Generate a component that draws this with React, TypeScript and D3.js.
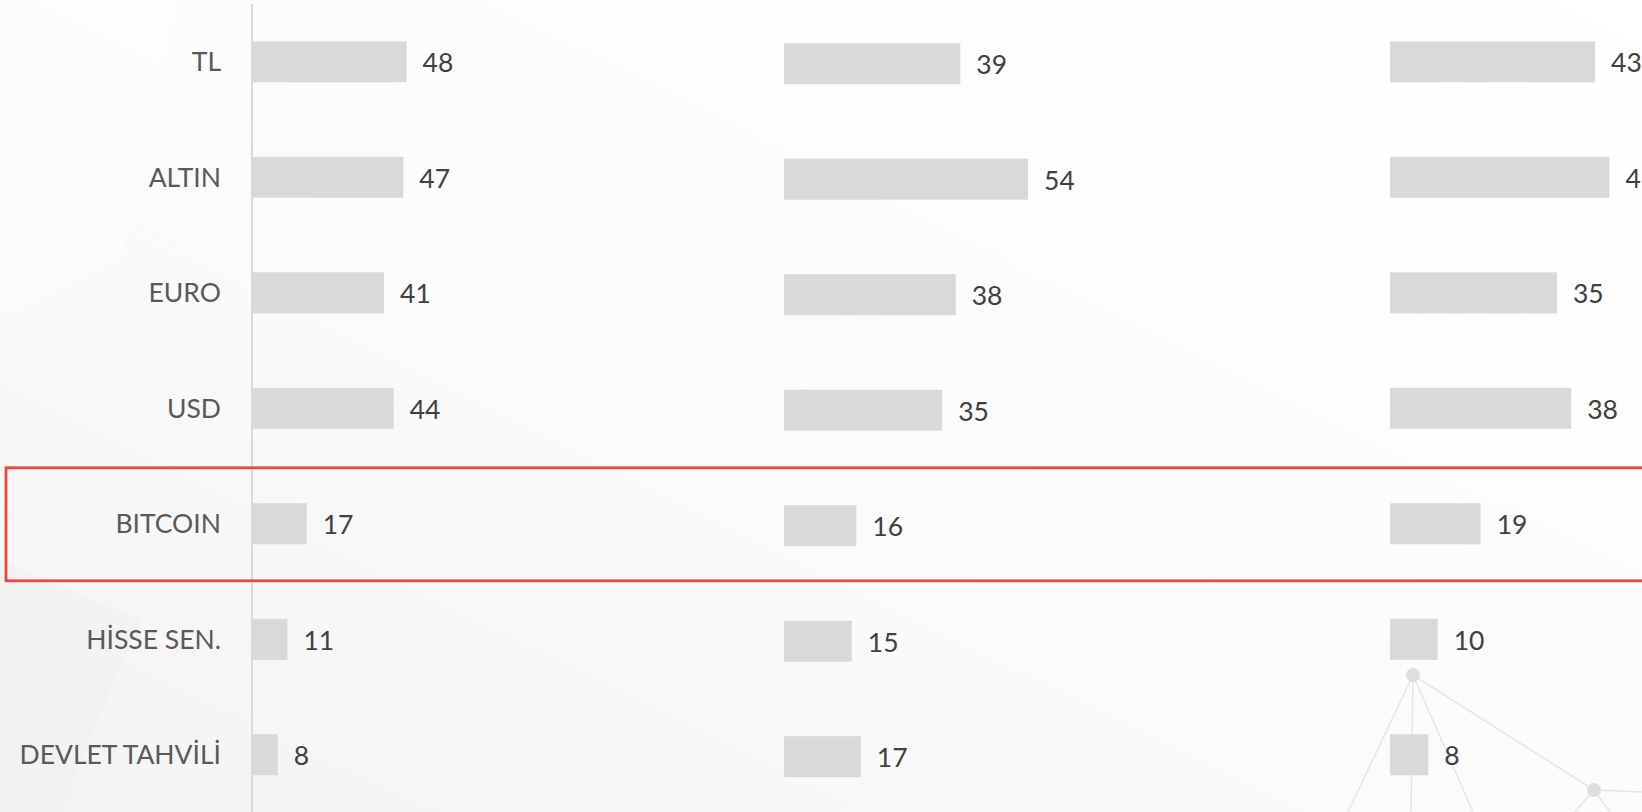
import React from "react";
import * as d3 from "d3";

const categories = ["TL", "ALTIN", "EURO", "USD", "BITCOIN", "HİSSE SEN.", "DEVLET TAHVİLİ"];
const series1 = [48, 47, 41, 44, 17, 11, 8];
const series2 = [39, 54, 38, 35, 16, 15, 17];
const series3 = [43, 46, 35, 38, 19, 10, 8];
const highlighted = "BITCOIN";

// network decoration nodes (background art)
const netNodes: [number, number][] = [
  [1413, 675],
  [1594, 790],
];
const netEdges: [number, number, number, number][] = [
  [1413, 675, 1348, 812],
  [1413, 675, 1411, 812],
  [1413, 675, 1473, 812],
  [1413, 675, 1594, 790],
  [1594, 790, 1642, 792],
  [1594, 790, 1575, 812],
  [1594, 790, 1610, 812],
];

const W = 1642;
const H = 812;

export default function App() {
  const y = d3.scalePoint<string>().domain(categories).range([61.8, 754.8]);
  const barH = 41;

  const panels = [
    { data: series1, x0: 252, scale: d3.scaleLinear().domain([0, 100]).range([0, 322]), dy: 0 },
    { data: series2, x0: 784, scale: d3.scaleLinear().domain([0, 100]).range([0, 452]), dy: 1.9 },
    { data: series3, x0: 1390, scale: d3.scaleLinear().domain([0, 100]).range([0, 477]), dy: 0 },
  ];

  const font = "Lato, 'Open Sans', sans-serif";
  const hy = y(highlighted)!;

  return (
    <svg
      width={W}
      height={H}
      style={{ position: "fixed", left: 0, top: 0, display: "block" }}
    >
      <defs>
        <linearGradient id="bg" x1="0" y1="1" x2="1" y2="0">
          <stop offset="0%" stopColor="#f3f3f3" />
          <stop offset="45%" stopColor="#fbfbfb" />
          <stop offset="100%" stopColor="#ffffff" />
        </linearGradient>
      </defs>
      <rect x={0} y={0} width={W} height={H} fill="url(#bg)" />
      {/* faint low-poly texture */}
      <polygon points="0,0 180,0 120,260 0,320" fill="#ffffff" opacity={0.35} />
      <polygon points="0,560 140,620 60,812 0,812" fill="#efefef" opacity={0.35} />

      {netEdges.map((e, i) => (
        <line key={"e" + i} x1={e[0]} y1={e[1]} x2={e[2]} y2={e[3]} stroke="#e6e6e6" strokeWidth={1.5} />
      ))}
      {netNodes.map((n, i) => (
        <circle key={"n" + i} cx={n[0]} cy={n[1]} r={7} fill="#dedede" />
      ))}

      {/* axis line */}
      <line x1={252} y1={4} x2={252} y2={H} stroke="#d9d9d9" strokeWidth={2} />

      {/* category labels */}
      {categories.map((c) => (
        <text
          key={c}
          x={221}
          y={y(c)! + 9.3}
          textAnchor="end"
          fontFamily={font}
          fontSize={26.5}
          fill="#595959"
        >
          {c}
        </text>
      ))}

      {panels.map((p, pi) => (
        <g key={pi}>
          {p.data.map((v, i) => {
            const cy = y(categories[i])! + p.dy;
            const w = p.scale(v);
            return (
              <g key={i}>
                <rect x={p.x0} y={cy - barH / 2} width={w} height={barH} fill="#d9d9d9" />
                <text
                  x={p.x0 + w + 16}
                  y={cy + 10.5}
                  fontFamily={font}
                  fontSize={26.5}
                  fill="#404040"
                >
                  {v}
                </text>
              </g>
            );
          })}
        </g>
      ))}

      {/* highlight box */}
      <rect
        x={6}
        y={hy - 56}
        width={W + 20}
        height={113}
        fill="none"
        stroke="#f2453d"
        strokeWidth={2.8}
      />
    </svg>
  );
}
